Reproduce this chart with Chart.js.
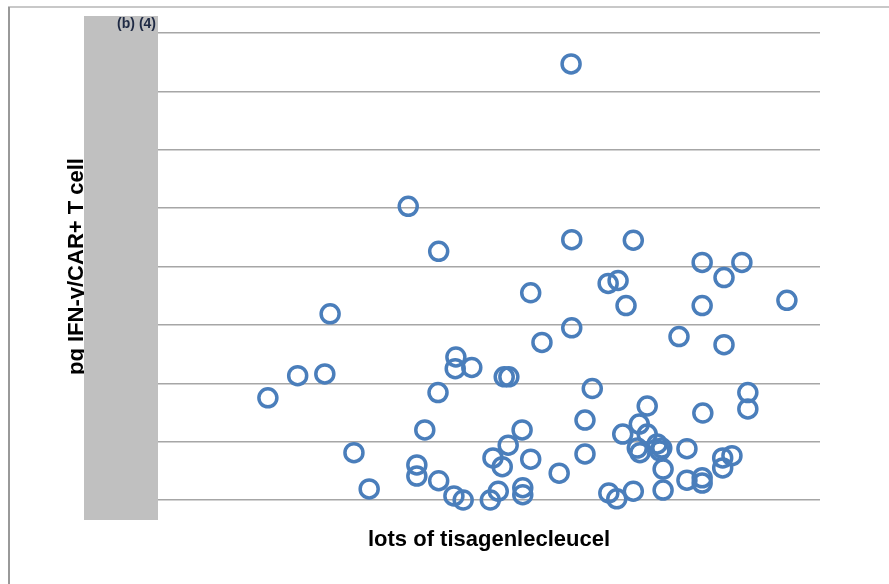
<!DOCTYPE html>
<html>
<head>
<meta charset="utf-8">
<script src="https://cdn.jsdelivr.net/npm/chart.js@4"></script>
<style>
  html, body { margin: 0; padding: 0; background: #fff; }
  #wrap { width: 889px; height: 584px; }
</style>
</head>
<body>
<div id="wrap"><canvas id="chart" width="889" height="584"></canvas></div>
<script>
// lot position (left to right) and IFN-gamma per CAR+ T cell
var lotPos = [62.4, 37.8, 42.4, 62.5, 71.8, 82.2, 88.2, 85.5, 68.0, 69.5, 56.3, 70.7, 82.2, 95.0, 26.0,
  62.5, 78.7, 58.0, 85.5, 45.0, 44.9, 47.4, 21.1, 25.2, 52.3, 53.0, 16.6, 42.3, 65.6, 89.1,
  89.1, 73.9, 64.5, 82.3, 72.7, 40.3, 55.0, 73.9, 70.2, 52.9, 29.6, 50.6, 64.5, 75.4, 76.1,
  75.8, 72.8, 72.4, 79.9, 52.0, 56.3, 39.1, 39.1, 60.6, 76.3, 85.3, 86.7, 85.3, 82.2, 82.2,
  79.9, 42.4, 31.9, 44.7, 46.1, 50.2, 51.4, 55.1, 55.1, 68.1, 69.3, 71.8, 76.3];
var ifnPerCell = [7.47, 5.03, 4.26, 4.46, 4.45, 4.07, 4.07, 3.81, 3.71, 3.76, 3.55, 3.33, 3.33, 3.42, 3.19,
  2.95, 2.80, 2.70, 2.66, 2.45, 2.25, 2.27, 2.13, 2.16, 2.11, 2.11, 1.75, 1.84, 1.91, 1.84,
  1.56, 1.61, 1.37, 1.49, 1.30, 1.20, 1.20, 1.13, 1.13, 0.94, 0.81, 0.72, 0.79, 0.96, 0.89,
  0.84, 0.81, 0.89, 0.88, 0.57, 0.70, 0.60, 0.41, 0.46, 0.53, 0.72, 0.76, 0.55, 0.38, 0.29,
  0.34, 0.33, 0.19, 0.07, 0.00, 0.00, 0.15, 0.21, 0.09, 0.12, 0.02, 0.15, 0.17];
var yTicks = [0, 1, 2, 3, 4, 5, 6, 7, 8];   // labels are blacked out in the source
var redactLabel = '(b) (4)';

var FONT = "'Liberation Sans', Arial, sans-serif";

// frame lines + the grey redaction box over the y tick labels
var overlay = {
  id: 'overlay',
  beforeDraw: function (chart) {
    var c = chart.ctx;
    c.save();
    c.lineWidth = 2;
    c.strokeStyle = '#c8c8c8';
    c.beginPath(); c.moveTo(8, 7); c.lineTo(889, 7); c.stroke();
    c.strokeStyle = '#999999';
    c.beginPath(); c.moveTo(9, 7); c.lineTo(9, 584); c.stroke();
    c.restore();
  },
  afterDraw: function (chart) {
    var c = chart.ctx;
    var a = chart.chartArea;
    c.save();
    c.fillStyle = '#c0c0c0';
    c.fillRect(84, 16, a.left - 84, 504);
    c.fillStyle = '#1f2a44';
    c.font = 'bold 14px ' + FONT;
    c.textAlign = 'right';
    c.textBaseline = 'alphabetic';
    c.fillText(redactLabel, a.left - 2, 28);
    c.restore();
  }
};

new Chart(document.getElementById('chart').getContext('2d'), {
  type: 'scatter',
  data: {
    datasets: [{
      data: lotPos.map(function (x, i) { return { x: x, y: ifnPerCell[i] }; }),
      borderColor: '#4a7ebb',
      backgroundColor: 'rgba(0,0,0,0)',
      pointRadius: 9,
      pointBorderWidth: 3.5,
      clip: false
    }]
  },
  options: {
    responsive: false,
    animation: false,
    events: [],
    layout: { padding: { left: 0, top: 33, right: 69, bottom: 30.8 } },
    plugins: { legend: { display: false }, tooltip: { enabled: false } },
    scales: {
      x: {
        type: 'linear', min: 0, max: 100,
        grid: { display: false },
        border: { display: false },
        ticks: { display: false },
        title: {
          display: true, text: 'lots of tisagenlecleucel', color: '#000',
          font: { family: FONT, size: 22, weight: 'bold', lineHeight: 1.2 },
          padding: { top: 18.8, bottom: 0 }
        }
      },
      y: {
        min: yTicks[0], max: yTicks[yTicks.length - 1],
        afterBuildTicks: function (s) { s.ticks = yTicks.map(function (v) { return { value: v }; }); },
        grid: { color: '#a6a6a6', lineWidth: 1.5, drawTicks: false },
        border: { display: false },
        ticks: { display: false },
        title: {
          display: true, text: 'pg IFN-γ/CAR+ T cell', color: '#000',
          font: { family: FONT, size: 22, weight: 'bold', lineHeight: 1.2 },
          padding: { top: 64.2, bottom: 67.4 }
        }
      }
    }
  },
  plugins: [overlay]
});
</script>
</body>
</html>
